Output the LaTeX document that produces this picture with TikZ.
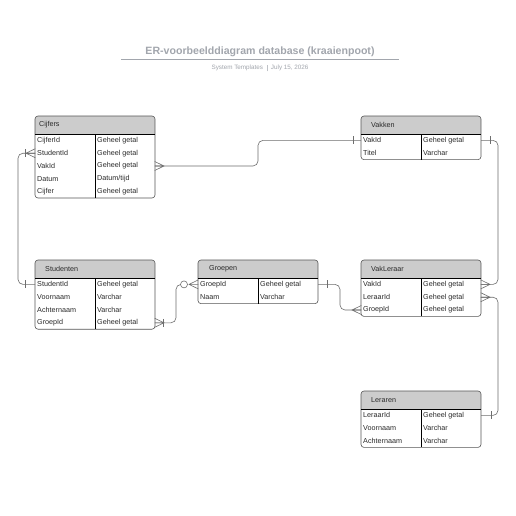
\documentclass[tikz,border=0pt]{standalone}
\usepackage{fontspec}
\setmainfont{Liberation Sans}
\definecolor{linec}{HTML}{6E6E6E}
\definecolor{boxc}{HTML}{555555}
\definecolor{hdrc}{HTML}{CCCCCC}
\definecolor{txtc}{HTML}{2A2A2A}
\definecolor{titc}{HTML}{A2A6AD}
\tikzset{
  conn/.style={draw=linec, line width=0.6pt},
  rowbox/.style={minimum width=120pt, minimum height=12.8pt, inner sep=0pt, outer sep=0pt},
  celltxt/.style={anchor=west, inner sep=0pt, font=\fontsize{7.2}{8}\selectfont, text=txtc},
  hdrtxt/.style={anchor=west, inner sep=0pt, font=\fontsize{7.2}{8}\selectfont, text=txtc},
}
\newcommand\ertable[6]{% name, x, y, title, title offset, rows
  \begin{scope}[shift={(#2,#3)}]
    \foreach \a/\b [count=\i] in {#6} {
      \node[rowbox] (#1-\i) at (60,{18+12.8*(\i-1)+6.4}) {};
      \node[celltxt] at (2,{18+12.8*(\i-1)+6.4}) {\a};
      \node[celltxt] at (62,{18+12.8*(\i-1)+6.4}) {\b};
      \xdef\ernrows{\i}
    }
    \pgfmathsetmacro\erbot{18+12.8*\ernrows}
    \begin{scope}
      \clip[rounded corners=3pt] (0,0) rectangle (120,\erbot);
      \fill[hdrc] (0,0) rectangle (120,18);
    \end{scope}
    \draw[boxc, line width=0.6pt, rounded corners=3pt] (0,0) rectangle (120,\erbot);
    \draw[black, line width=0.7pt] (0,18) -- (120,18);
    \draw[black, line width=0.7pt] (60,18) -- (60,\erbot);
    \node[hdrtxt] (#1-h) at (#5,9) {#4};
  \end{scope}
}
% markers
\newcommand\footE[1]{\draw[conn] ([xshift=-0.3pt,yshift=4.5pt]#1) -- ([xshift=9pt]#1) -- ([xshift=-0.3pt,yshift=-4.5pt]#1) ([xshift=-0.3pt]#1) -- ([xshift=9pt]#1);}
\newcommand\footW[1]{\draw[conn] ([xshift=0.3pt,yshift=4.5pt]#1) -- ([xshift=-9pt]#1) -- ([xshift=0.3pt,yshift=-4.5pt]#1) ([xshift=0.3pt]#1) -- ([xshift=-9pt]#1);}
\newcommand\barE[2]{\draw[conn] ([xshift=#2,yshift=4pt]#1) -- ([xshift=#2,yshift=-4pt]#1);}
\begin{document}
\begin{tikzpicture}[x=1pt,y=-1pt]
\useasboundingbox (0,0) rectangle (516,516);
\fill[white] (0,0) rectangle (516,516);
% title
\node[font=\bfseries\fontsize{10.6}{12}\selectfont, text=titc] (title) at (260,52) {ER-voorbeelddiagram database (kraaienpoot)};
\draw[titc, line width=0.8pt] (121,59) -- (399,59);
\node[font=\fontsize{6.3}{7}\selectfont, text=titc] (sub) at (260,68) {System Templates\hspace{0.6em}\textcolor{titc!70}{\rule[-0.25em]{0.4pt}{1.1em}}\hspace{0.6em}July 15, 2026};
% tables
\ertable{cij}{35}{116}{Cijfers}{4}{CijferId/Geheel getal, StudentId/Geheel getal, VakId/Geheel getal, Datum/Datum\slash tijd, Cijfer/Geheel getal}
\ertable{vak}{361}{116}{Vakken}{10}{VakId/Geheel getal, Titel/Varchar}
\ertable{stu}{35}{260}{Studenten}{10}{StudentId/Geheel getal, Voornaam/Varchar, Achternaam/Varchar, GroepId/Geheel getal}
\ertable{grp}{198}{260}{Groepen}{11}{GroepId/Geheel getal, Naam/Varchar}
\ertable{vl}{361}{260}{VakLeraar}{10}{VakId/Geheel getal, LeraarId/Geheel getal, GroepId/Geheel getal}
\ertable{ler}{361}{391}{Leraren}{10}{LeraarId/Geheel getal, Voornaam/Varchar, Achternaam/Varchar}
% connectors
\draw[conn, rounded corners=5pt] (cij-3.east) -- ++(103,0) |- (vak-1.west);
\draw[conn, rounded corners=5pt] (cij-2.west) -- ++(-17,0) |- (stu-1.west);
\draw[conn, rounded corners=5pt] (vak-1.east) -- ++(17,0) |- (vl-1.east);
\draw[conn, rounded corners=5pt] (vl-2.east) -- ++(17,0) |- (ler-1.east);
\draw[conn, rounded corners=5pt] (stu-4.east) -- ++(21,0) |- ([xshift=-17.5pt]grp-1.west);
\draw[conn, rounded corners=5pt] (grp-1.east) -- ++(22,0) |- (vl-3.west);
% markers
\footE{cij-3.east}
\barE{vak-1.west}{-8pt}
\footW{cij-2.west} \barE{cij-2.west}{-10pt}
\barE{stu-1.west}{-10pt}
\barE{vak-1.east}{9pt}
\footE{vl-1.east}
\footE{vl-2.east}
\barE{ler-1.east}{10pt}
\footE{stu-4.east} \barE{stu-4.east}{8pt}
\footW{grp-1.west}
\draw[conn, fill=white] ([xshift=-14pt]grp-1.west) circle (3.5pt);
\barE{grp-1.east}{9pt}
\footW{vl-3.west}
\end{tikzpicture}
\end{document}
